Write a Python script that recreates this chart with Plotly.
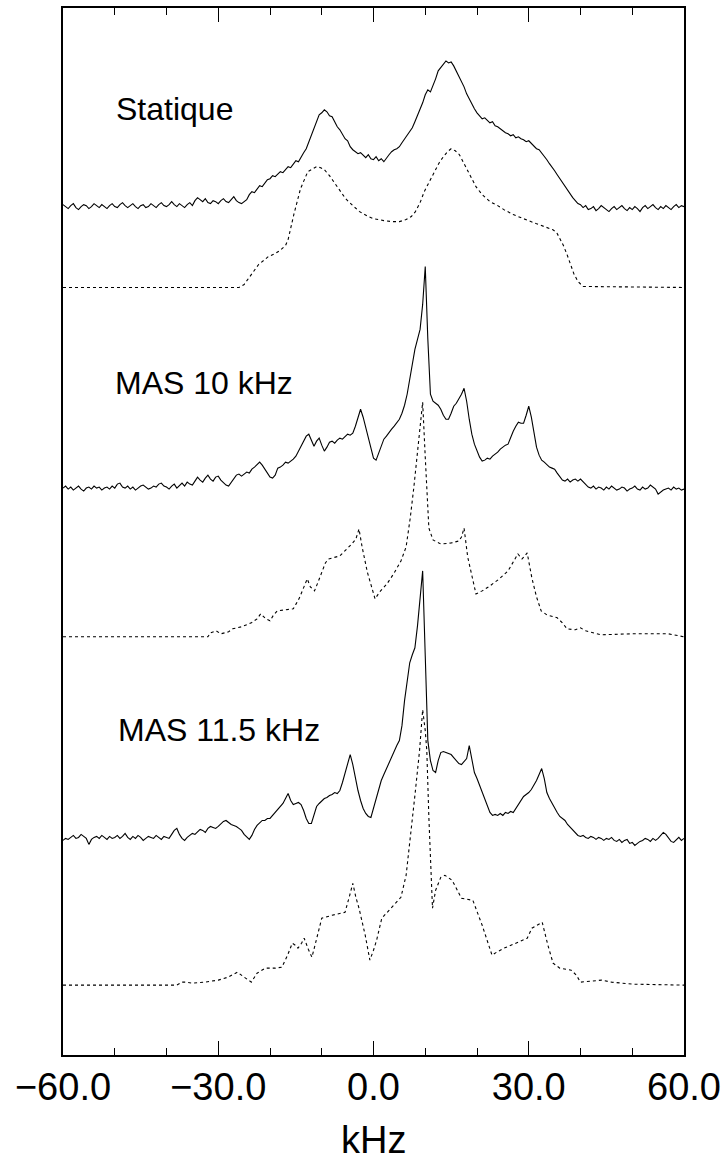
import plotly.graph_objects as go

# ---------------- data (kHz axis, intensities in arbitrary units above each baseline) -------------
# experimental spectra sampled every 0.5 kHz from -60 to 60 kHz
exp_freq = [-60 + 0.5 * i for i in range(241)]

static_exp = [
    2, 0, -2, 1, 3, -1, -3, 0, 2, 1, -2, 0, 3, 1, -1, 2, 0, -2, 1, 3,
    0, -1, 2, 4, 1, -1, 1, 3, 0, -2, 1, 2, -1, 0, 3, 1, -1, 2, 4, 1,
    0, 2, 5, 2, 0, 3, 1, -1, 2, 4, 1, 6, 9, 7, 5, 8, 4, 3, 6, 5,
    3, 6, 8, 5, 4, 7, 10, 6, 4, 3, 5, 7, 12, 15, 14, 18, 21, 20, 24, 27,
    28, 31, 30, 33, 35, 34, 37, 40, 39, 42, 46, 45, 50, 54, 58, 65, 72, 80, 87, 92,
    94, 97, 95, 91, 90, 85, 80, 77, 72, 68, 66, 60, 57, 55, 53, 54, 51, 49, 52, 48,
    47, 50, 46, 48, 45, 49, 52, 55, 57, 58, 60, 64, 68, 72, 76, 79, 85, 91, 97, 104,
    112, 117, 115, 121, 128, 136, 139, 143, 146, 144, 145, 141, 136, 131, 126, 120, 113, 108, 102, 98,
    94, 91, 88, 89, 86, 84, 85, 81, 80, 78, 76, 74, 73, 71, 72, 69, 70, 68, 67, 65,
    66, 63, 61, 58, 57, 54, 50, 47, 43, 40, 36, 32, 28, 24, 20, 16, 12, 9, 6, 3,
    2, -1, 1, -3, -2, 0, -4, -2, 1, -1, -3, -5, -2, 0, -3, -1, 1, -2, -4, -1,
    -3, 0, -2, -5, -1, 1, -2, 0, 2, -1, -3, 0, -2, 1, -1, -3, 0, 2, -1, 1,
    0,
]

mas10_exp = [
    1, 3, 0, 2, -1, 1, 3, 0, -2, 1, 2, 0, 3, 1, 2, -1, 1, 2, 0, 3,
    1, 5, 6, 2, 1, 3, 0, 2, -1, 1, 3, 4, 2, 0, 1, 3, 2, 5, 6, 3,
    2, 0, 3, 5, 1, 4, 6, 3, 7, 5, 4, 8, 12, 9, 7, 11, 14, 10, 8, 12,
    13, 9, 6, 4, 3, 7, 10, 14, 15, 13, 15, 17, 16, 20, 22, 25, 27, 24, 20, 15,
    12, 11, 14, 21, 22, 24, 27, 26, 28, 30, 33, 38, 43, 47, 53, 55, 48, 43, 48, 51,
    44, 38, 42, 47, 48, 46, 49, 51, 50, 53, 55, 54, 56, 63, 72, 80, 72, 62, 51, 40,
    31, 29, 36, 45, 50, 53, 57, 60, 63, 66, 70, 76, 84, 95, 110, 127, 140, 150, 160, 185,
    223, 150, 95, 88, 86, 84, 80, 74, 70, 70, 76, 83, 86, 90, 95, 101, 88, 70, 55, 45,
    38, 32, 28, 29, 31, 30, 33, 35, 37, 40, 42, 44, 45, 52, 58, 63, 67, 66, 66, 74,
    83, 72, 55, 42, 34, 29, 27, 24, 22, 21, 20, 16, 12, 9, 8, 10, 7, 9, 10, 8,
    10, 7, 4, 2, 1, 3, 0, 2, 1, -1, 2, 0, 3, 1, -1, 0, 2, 1, -2, 0,
    1, 3, 0, -1, 2, 0, 1, 4, 2, 0, -5, -3, -1, 0, 1, -1, 2, 0, 1, -1,
    0,
]

mas115_exp = [
    0, 2, 1, 3, 5, 2, 3, 6, 4, 2, -4, 1, 3, 4, 2, 5, 3, 1, 4, 2,
    3, 5, 2, 4, 7, 3, 1, 4, 2, 5, 3, 0, 2, 4, 3, 2, 5, 3, 1, 4,
    3, 2, 6, 10, 12, 6, 2, 0, 3, 5, 7, 6, 9, 11, 10, 8, 12, 14, 13, 12,
    14, 17, 19, 20, 18, 16, 15, 14, 12, 10, 6, 3, 1, 5, 11, 15, 18, 20, 20, 22,
    22, 25, 29, 32, 34, 37, 42, 47, 40, 36, 37, 38, 36, 30, 22, 17, 17, 26, 34, 37,
    40, 42, 43, 45, 46, 48, 47, 50, 58, 68, 78, 86, 76, 62, 50, 40, 32, 27, 24, 23,
    32, 42, 52, 60, 66, 72, 78, 84, 90, 95, 100, 115, 140, 162, 178, 186, 193, 215, 245, 270,
    185, 100, 80, 70, 68, 80, 88, 89, 88, 87, 86, 83, 80, 77, 76, 79, 82, 95, 82, 68,
    62, 55, 48, 40, 33, 28, 25, 26, 25, 27, 25, 28, 27, 29, 28, 32, 36, 41, 44, 46,
    48, 51, 55, 60, 66, 72, 62, 48, 42, 37, 32, 28, 24, 22, 20, 16, 13, 10, 7, 5,
    4, 5, 3, 2, 4, 3, 1, 3, 2, 0, 2, 1, 3, 0, -1, 1, -2, 0, 1, -3,
    -2, -5, -3, -1, 0, 2, 1, -1, 2, 0, 2, 5, 8, 6, 2, -1, -2, 1, 3, 0,
    2,
]

# simulated spectra (smooth, read at feature points)
static_sim_freq = [-60, -26, -25, -24.3, -23, -22.2, -21, -20.3, -19, -18.1, -17, -16.5, -15.4, -14.1,
                   -12.7, -11.8, -11, -10.2, -9.5, -8.5, -7.7, -6.5, -5.4, -4, -2.7, -1, 0, 2, 3.6, 5,
                   6.3, 7.3, 8.1, 9, 9.8, 10.8, 11.8, 12.7, 13.5, 14.3, 15, 15.8, 16.6, 17.3, 18, 19,
                   19.8, 21, 22.5, 24, 25.2, 27, 27.9, 29.5, 31.4, 33, 34.6, 35.4, 36, 36.7, 37.4, 38,
                   38.7, 39.5, 40.5, 60]
static_sim = [0, 0, 3, 8, 17, 23, 28, 31, 34, 37, 42, 48, 73, 99,
              116, 119, 121, 120, 118, 112, 106, 97, 89, 82, 76, 71, 69, 67, 66, 66,
              68, 71, 76, 85, 96, 106, 116, 125, 131, 136, 139, 137, 133, 126, 119, 109,
              101, 93, 86, 82, 78, 73, 71, 68, 64, 61, 58, 55, 49, 42, 33, 24,
              14, 6, 1, 0]

mas10_sim_freq = [-60, -32, -31.5, -30.4, -29.5, -28, -27.2, -25.5, -23.6, -22.5, -21.8, -20.8, -20,
                  -19.3, -18.6, -16.8, -15.5, -14.4, -13.7, -13.2, -12.8, -12.2, -11.4, -10.7, -10,
                  -9.3, -8.7, -6.5, -4.2, -3.4, -2.8, -2.2, -1.2, 0.3, 1.2, 2.6, 4, 5.3, 6.3, 7.1,
                  7.8, 8.4, 9, 9.5, 10, 10.7, 11.5, 13, 15, 16.5, 17, 17.5, 18.2, 19.8, 21, 22.5,
                  24.3, 26, 27.9, 28.7, 29.7, 30.6, 31.5, 32.4, 33.5, 35.5, 36.5, 37.4, 39, 40, 41,
                  42.3, 44, 50, 57, 60]
mas10_sim = [0, 0, 4, 6, 3, 5, 8, 10, 14, 18, 23, 18, 16,
             22, 26, 27, 28, 38, 46, 52, 58, 50, 46, 55, 64,
             74, 78, 81, 93, 98, 108, 90, 65, 38, 45, 53, 64, 76, 90, 119,
             150, 179, 215, 235, 180, 109, 97, 93, 94, 96, 100, 109, 80, 43, 46, 51,
             58, 66, 83, 78, 84, 59, 40, 26, 22, 19, 14, 8, 7, 9, 6,
             4, 2, 3, 3, 0]

mas115_sim_freq = [-60, -38, -37, -36.3, -35, -32.6, -30, -28.1, -27, -26.3, -25, -23.6, -22.5, -20.9,
                   -19, -17.7, -16.6, -15.7, -15.1, -14.6, -13.9, -13.4, -12.6, -11.9, -11.4, -10.9,
                   -10, -8, -5.5, -4.6, -4, -3.4, -2.8, -1.6, -0.7, 0, 0.6, 1.6, 3.5, 5.3, 6.3, 7.1,
                   8, 8.9, 9.5, 10, 10.3, 10.7, 11.1, 11.4, 12, 13, 13.8, 15.2, 16, 17, 18.1, 19.2,
                   21, 22.9, 23.8, 25.2, 27.5, 29.7, 30.6, 31.6, 32.6, 33.7, 34.7, 36, 38.2, 39.2,
                   40, 42, 44.1, 46, 50, 60]
mas115_sim = [0, 0, 3, 3, 2, 3, 5, 8, 11, 13, 8, 3, 12, 17,
              17, 18, 30, 42, 40, 37, 42, 47, 36, 28, 38, 48,
              67, 70, 73, 90, 102, 88, 77, 50, 25, 35, 45, 67, 78, 88, 110, 145,
              190, 235, 276, 255, 235, 168, 110, 77, 95, 108, 110, 105, 97, 87, 86, 85,
              60, 30, 33, 37, 42, 47, 57, 60, 63, 40, 22, 17, 15, 10,
              3, 4, 5, 3, 1, 0]

# vertical stacking offsets (baselines) of the six spectra
offsets = {
    "static_exp": 850, "static_sim": 769,
    "mas10_exp": 567, "mas10_sim": 419,
    "mas115_exp": 215, "mas115_sim": 70,
}

labels = ["Statique", "MAS 10 kHz", "MAS 11.5 kHz"]
tick_vals = [-60, -30, 0, 30, 60]
tick_text = ["\u221260.0", "\u221230.0", "0.0", "30.0", "60.0"]

# ---------------- figure -------------
FONT = "Liberation Sans, Arial, Helvetica, sans-serif"
fig = go.Figure()

def add(xs, ys, off, dotted):
    fig.add_trace(go.Scatter(
        x=xs, y=[off + v for v in ys], mode="lines",
        line=dict(color="black", width=1.1, dash="3px,3px" if dotted else "solid"),
        hoverinfo="skip", showlegend=False))

add(exp_freq, static_exp, offsets["static_exp"], False)
add(static_sim_freq, static_sim, offsets["static_sim"], True)
add(exp_freq, mas10_exp, offsets["mas10_exp"], False)
add(mas10_sim_freq, mas10_sim, offsets["mas10_sim"], True)
add(exp_freq, mas115_exp, offsets["mas115_exp"], False)
add(mas115_sim_freq, mas115_sim, offsets["mas115_sim"], True)

label_pos = [(-50.2, 948), (-50.35, 673.5), (-49.68, 325.5)]
for txt, (lx, ly) in zip(labels, label_pos):
    fig.add_annotation(x=lx, y=ly, xref="x", yref="y", text=txt, showarrow=False,
                       xanchor="left", yanchor="middle",
                       font=dict(family=FONT, size=32, color="black"))

fig.add_annotation(x=0, y=-0.0815, xref="x", yref="paper", text="kHz", showarrow=False,
                   xanchor="center", yanchor="middle",
                   font=dict(family=FONT, size=38, color="black"))

fig.update_layout(
    width=727, height=1160,
    margin=dict(l=63, r=42, t=6, b=105),
    plot_bgcolor="white", paper_bgcolor="white",
    showlegend=False,
    font=dict(family=FONT, color="black"),
    xaxis=dict(
        range=[-60, 60], tickmode="array", tickvals=tick_vals, ticktext=tick_text,
        ticks="inside", ticklen=14, tickwidth=1.3, tickcolor="black",
        showline=True, linecolor="black", linewidth=1.5, mirror="ticks",
        showgrid=False, zeroline=False,
        tickfont=dict(family=FONT, size=38, color="black"),
        ticklabelstandoff=-2,
        minor=dict(tickmode="linear", tick0=-60, dtick=10, ticks="inside", ticklen=7,
                   tickwidth=1.3, tickcolor="black", showgrid=False),
    ),
    yaxis=dict(
        range=[0, 1049], showline=True, linecolor="black", linewidth=1.5, mirror=True,
        showticklabels=False, ticks="", showgrid=False, zeroline=False,
    ),
)

fig.write_html(
    "out.html",
    config={"displayModeBar": False},
    post_script="document.body.style.margin='0';document.body.style.padding='0';"
                "document.body.style.overflow='hidden';",
)
